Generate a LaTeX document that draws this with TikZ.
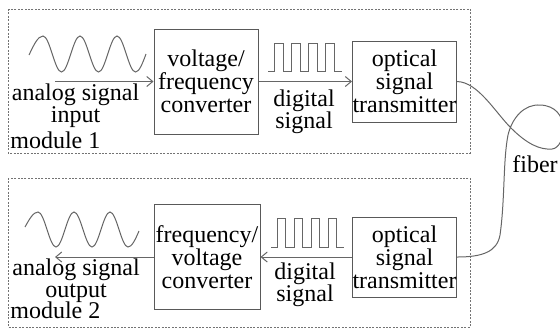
\documentclass[tikz,border=0pt]{standalone}
\usepackage{fontspec}
\setmainfont{Liberation Serif}
\usetikzlibrary{arrows.meta}
\begin{document}
\begin{tikzpicture}[x=0.5pt,y=-0.5pt,
  every node/.style={font=\fontsize{12}{11.5}\selectfont, text=black},
  blk/.style={draw=black!65, line width=0.5pt, align=center, inner sep=0pt},
  module/.style={draw=black!55, line width=0.5pt, dash pattern=on 1pt off 0.7pt},
  sig/.style={draw=black!60, line width=0.5pt},
  arr/.style={sig, -{Straight Barb[length=3pt,width=5pt]}},
  lbl/.style={anchor=base, inner sep=0pt}]
\useasboundingbox (0,0) rectangle (560,329);
\clip (0,0) rectangle (560,329);
% module frames
\draw[module] (8,9) rectangle (470,153);
\draw[module] (8,178) rectangle (470,327);
% blocks
\node[blk, minimum width=52pt, minimum height=52.5pt] (vf1) at (206,81.5) {voltage/\\frequency\\converter};
\node[blk, minimum width=51.5pt, minimum height=40.5pt] (opt1) at (404.5,81.5) {optical\\signal\\transmitter};
\node[blk, minimum width=53pt, minimum height=52.5pt] (fv2) at (207,257) {frequency/\\voltage\\converter};
\node[blk, minimum width=51.5pt, minimum height=40pt] (opt2) at (404.5,257) {optical\\signal\\transmitter};
% arrows
\coordinate (in1) at (55,81.5);
\coordinate (out2) at (55,257);
\draw[arr] (in1) -- (vf1.west);
\draw[arr] (vf1.east) -- (opt1.west);
\draw[arr] (opt2.west) -- (fv2.east);
\draw[arr] (fv2.west) -- (out2);
% sine waves
\draw[sig] (29,55) sin (43,36) cos (52.25,54) sin (61.5,72) cos (70.75,54) sin (80,36) cos (89.25,54) sin (98.5,72) cos (107.75,54) sin (117,36) cos (126.25,54) sin (135.5,72) cos (146,54);
\draw[sig] (25,227) sin (38,212) cos (47,229.5) sin (56,247) cos (65,229.5) sin (74,212) cos (83,229.5) sin (92,247) cos (101,229.5) sin (110,212) cos (119,229.5) sin (128,247) cos (139,231);
% square waves
\draw[sig] (268,71) -- (274,71) -- (274,43) -- (283,43) -- (283,71) -- (291,71) -- (291,43) -- (300,43) -- (300,71) -- (308,71) -- (308,43) -- (317,43) -- (317,71) -- (325,71) -- (325,43) -- (334,43) -- (334,71) -- (342,71);
\draw[sig] (271,247) -- (277,247) -- (277,218) -- (285,218) -- (285,247) -- (294,247) -- (294,218) -- (302,218) -- (302,247) -- (311,247) -- (311,218) -- (319,218) -- (319,247) -- (328,247) -- (328,218) -- (336,218) -- (336,247) -- (344,247);
% fiber
\draw[sig] (opt1.east) .. controls (478,82) and (495,112) .. (511,128)
  .. controls (527,144) and (540,150) .. (552,149)
  .. controls (566,148) and (572,106) .. (540,105)
  .. controls (524,104) and (512,118) .. (508,135)
  .. controls (503,160) and (505,200) .. (500,235)
  .. controls (497,252) and (482,257) .. (opt2.east);
% labels
\node[lbl] (ain1) at (75.5,100) {analog signal};
\node[lbl] (ain2) at (75.5,122) {input};
\node[lbl, anchor=base west] (m1) at (10,148) {module 1};
\node[lbl] (dg1) at (304,106) {digital};
\node[lbl] (dg2) at (304,128) {signal};
\node[lbl] (aout1) at (76,275) {analog signal};
\node[lbl] (aout2) at (76,297) {output};
\node[lbl, anchor=base west] (m2) at (10,318) {module 2};
\node[lbl] (dg3) at (305,279) {digital};
\node[lbl] (dg4) at (305,301) {signal};
\node[lbl, anchor=base west] (fib) at (512,172) {fiber};
\end{tikzpicture}
\end{document}
